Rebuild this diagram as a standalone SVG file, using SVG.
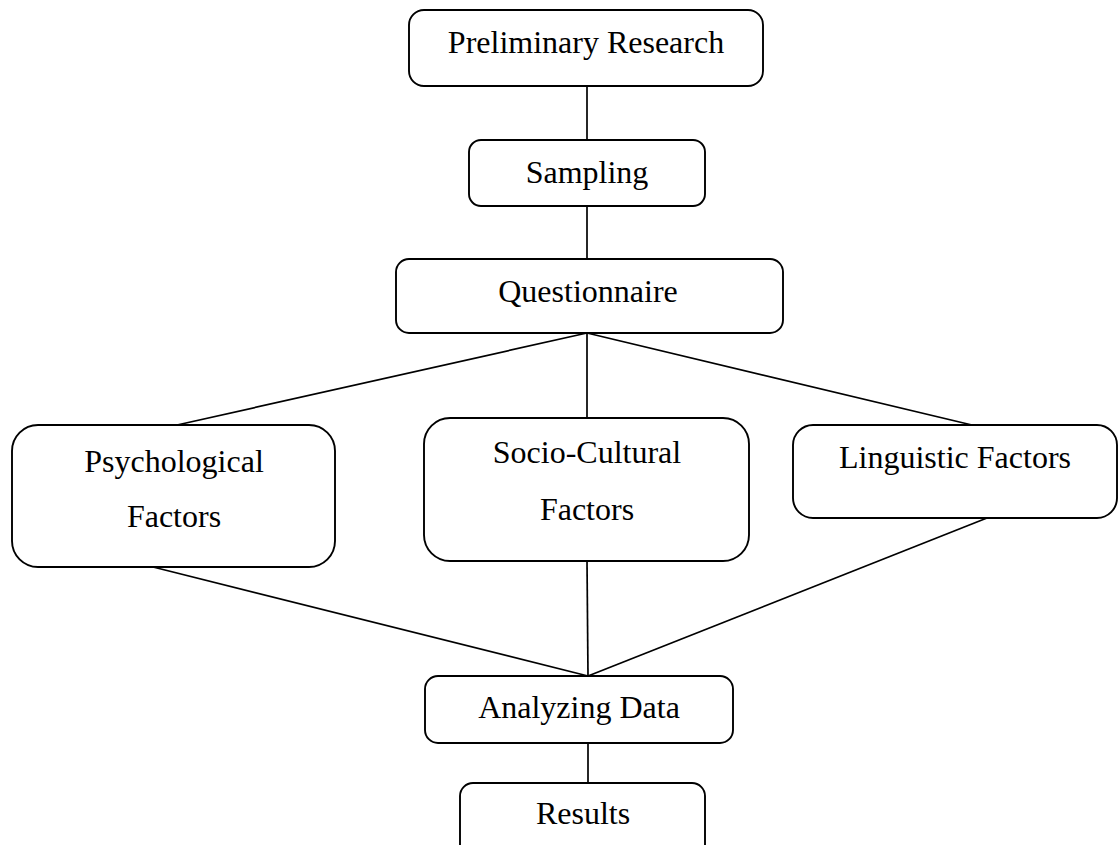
<svg xmlns="http://www.w3.org/2000/svg" width="1120" height="845" viewBox="0 0 1120 845">
<style>
.box{fill:#fff;stroke:#000;stroke-width:1.9}
.t{font-family:"Liberation Serif","Times New Roman",serif;font-size:32px;fill:#000;text-anchor:middle}
.c{stroke:#000;stroke-width:1.7;fill:none}
</style>
<rect width="1120" height="845" fill="#fff"/>
<g id="connectors">
<line class="c" x1="587" y1="86" x2="587" y2="140"/>
<line class="c" x1="587" y1="206" x2="587" y2="259"/>
<line class="c" x1="587" y1="333" x2="177" y2="425"/>
<line class="c" x1="587" y1="333" x2="587" y2="418"/>
<line class="c" x1="587" y1="333" x2="972" y2="425"/>
<line class="c" x1="153" y1="567" x2="588" y2="676"/>
<line class="c" x1="587" y1="561" x2="588" y2="676"/>
<line class="c" x1="987" y1="518" x2="588" y2="676"/>
<line class="c" x1="588" y1="743" x2="588" y2="783"/>
</g>
<g id="preliminary"><rect class="box" x="409" y="10" width="354" height="76" rx="15"/><text class="t" x="586" y="53">Preliminary Research</text></g>
<g id="sampling"><rect class="box" x="469" y="140" width="236" height="66" rx="12"/><text class="t" x="587" y="183">Sampling</text></g>
<g id="questionnaire"><rect class="box" x="396" y="259" width="387" height="74" rx="13"/><text class="t" x="588" y="302">Questionnaire</text></g>
<g id="psychological"><rect class="box" x="12" y="425" width="323" height="142" rx="26"/><text class="t" x="174" y="472">Psychological</text><text class="t" x="174" y="527">Factors</text></g>
<g id="sociocultural"><rect class="box" x="424" y="418" width="325" height="143" rx="26"/><text class="t" x="587" y="463">Socio-Cultural</text><text class="t" x="587" y="520">Factors</text></g>
<g id="linguistic"><rect class="box" x="793" y="425" width="324" height="93" rx="20"/><text class="t" x="955" y="468">Linguistic Factors</text></g>
<g id="analyzing"><rect class="box" x="425" y="676" width="308" height="67" rx="13"/><text class="t" x="579" y="718">Analyzing Data</text></g>
<g id="results"><rect class="box" x="460" y="783" width="245" height="80" rx="13"/><text class="t" x="583" y="824">Results</text></g>
</svg>
